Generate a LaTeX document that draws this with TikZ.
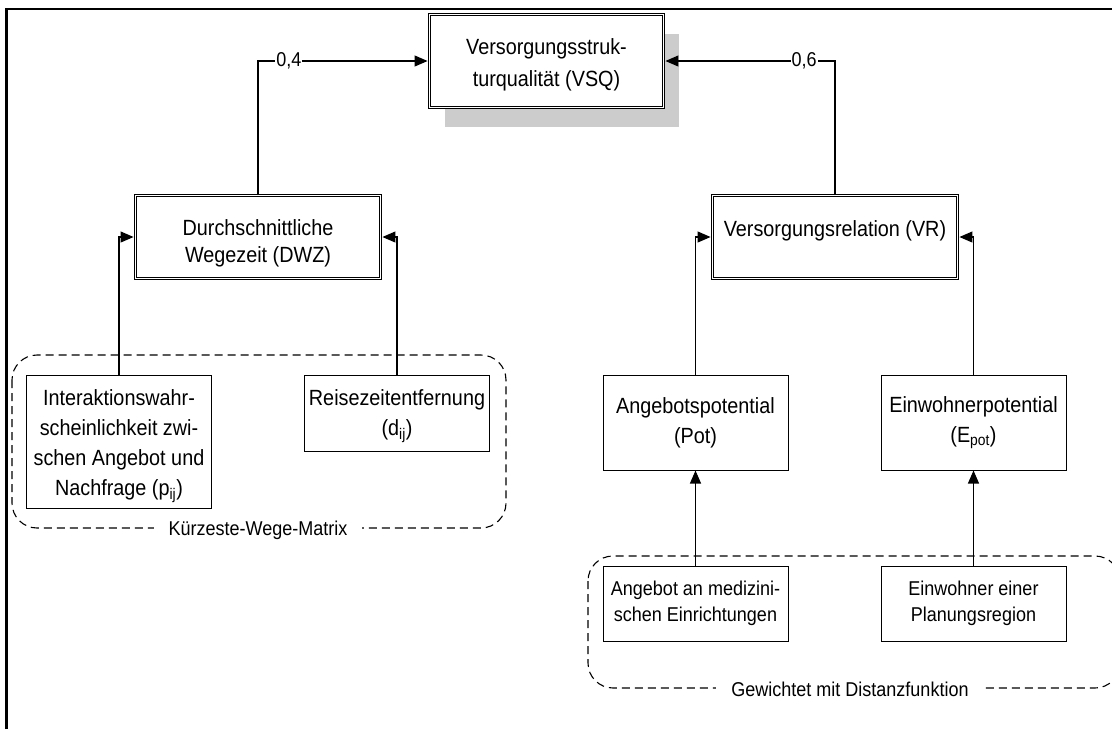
\documentclass[tikz,border=0pt]{standalone}
\usepackage{fontspec}
\setmainfont{Liberation Sans}[FakeStretch=0.9]
\usetikzlibrary{arrows.meta,shadows}

\newcommand{\topgap}[1]{\rule{0pt}{#1}}

\begin{document}
\begin{tikzpicture}[x=1pt,y=-1pt,
    box/.style={draw,line width=1pt,align=center,inner sep=2pt,fill=white,
        minimum width=185pt,font=\fontsize{22}{30}\selectfont},
    dbox/.style={box,double,double distance=1.5pt,line width=0.9pt,
        minimum width=245pt,minimum height=83pt,font=\fontsize{22}{27}\selectfont},
    smallbox/.style={box,minimum height=75pt,font=\fontsize{20}{26}\selectfont},
    conn/.style={line width=1.1pt,-{Triangle[length=13pt,width=11pt]}},
    weight/.style={fill=white,inner sep=1pt,font=\fontsize{20}{22}\selectfont},
    group/.style={draw,dash pattern=on 8pt off 5pt,line width=1.1pt,rounded corners=25pt},
    grouplabel/.style={fill=white,inner xsep=15pt,inner ysep=1pt,font=\fontsize{20}{22}\selectfont}]
    \pgfmathsetmacro{\framewidth}{1112}
    \pgfmathsetmacro{\frameheight}{729}
    \useasboundingbox (0,0) rectangle (\framewidth,\frameheight);
    \draw[line width=2.5pt] (6.5,\frameheight) -- (6.5,9) -- (\framewidth,9);

    % gruppen
    \draw[group] (12,355) rectangle (506,528);
    \draw[group] (588,556) rectangle (1120,688);
    \node[grouplabel] (kwm) at (258,530) {Kürzeste-Wege-Matrix};
    \node[grouplabel] (gmd) at (850,689) {Gewichtet mit Distanzfunktion};

    \node[dbox,minimum width=234pt,minimum height=93pt,font=\fontsize{22}{32}\selectfont,
        drop shadow={shadow xshift=15pt,shadow yshift=-19pt,fill=black!20,opacity=1}]
        (vsq) at (546.5,61) {\topgap{24pt}Versorgungsstruk-\\turqualität (VSQ)};
    \node[dbox] (dwz) at (258,237) {\topgap{28pt}Durchschnittliche\\Wegezeit (DWZ)};
    \node[dbox] (vr) at (835,237) {\topgap{30pt}Versorgungsrelation (VR)\\\vphantom{(DWZ)}};

    \node[box,minimum height=133pt] (iw) at (119,441.5)
        {\topgap{26pt}Interaktionswahr-\\scheinlichkeit zwi-\\schen Angebot und\\Nachfrage (p\textsubscript{ij})};
    \node[box,minimum height=76pt] (rze) at (397,413) {\topgap{22pt}Reisezeitentfernung\\(d\textsubscript{ij})};
    \node[box,minimum height=95pt] (apot) at (695.5,422.5) {Angebotspotential\\(Pot)};
    \node[box,minimum height=95pt] (epot) at (973.5,422.5) {Einwohnerpotential\\(E\textsubscript{pot})};
    \node[smallbox] (amed) at (695.5,603.5) {Angebot an medizini-\\schen Einrichtungen};
    \node[smallbox] (ewr) at (973.5,603.5) {Einwohner einer\\Planungsregion};

    \draw[conn,shorten >=1.5pt] (dwz.north) |- node[weight,pos=0.59] {0,4} (vsq.west);
    \draw[conn,shorten >=1.5pt] (vr.north) |- node[weight,pos=0.59] {0,6} (vsq.east);
    \draw[conn,shorten >=1.5pt] (iw.north) |- (dwz.west);
    \draw[conn,shorten >=1.5pt] (rze.north) |- (dwz.east);
    \draw[conn,shorten >=1.5pt] (apot.north) |- (vr.west);
    \draw[conn,shorten >=1.5pt] (epot.north) |- (vr.east);
    \draw[conn] (amed.north) -- (apot.south);
    \draw[conn] (ewr.north) -- (epot.south);
\end{tikzpicture}
\end{document}
